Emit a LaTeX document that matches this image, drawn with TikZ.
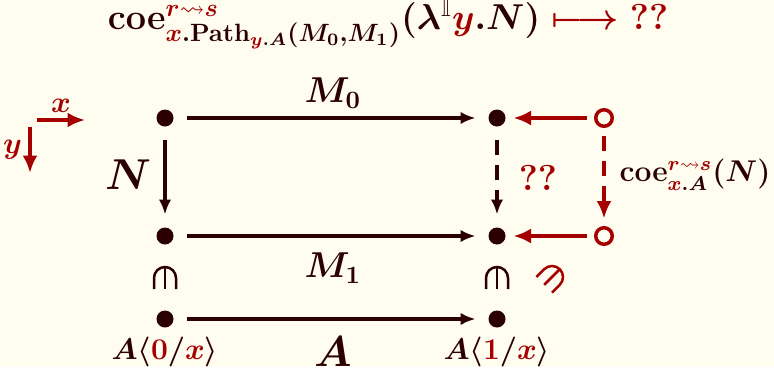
\documentclass[tikz,border=0pt]{standalone}
\usepackage{amsmath,amssymb}
\usepackage{xcolor}
\usetikzlibrary{arrows.meta}
\definecolor{mydark}{RGB}{43,0,0}
\definecolor{myred}{RGB}{165,0,0}
\definecolor{mycream}{RGB}{255,252,240}
\newcommand{\rd}[1]{{\color{myred}#1}}

\tikzset{
  every node/.style={text=mydark,font=\boldmath},
  pt/.style={circle,fill=mydark,inner sep=0pt,minimum size=6.8pt},
  hole/.style={circle,draw=myred,line width=1.4pt,inner sep=0pt,minimum size=6.6pt},
  fork/.pic={
    \draw[line width=1pt] (-11,11) -- (-11,0) arc (180:360:11) -- (11,11);
    \draw[line width=1pt] (0,-11) -- (0,11);
  },
  arr/.style={-{Latex[length=6pt,width=5pt]},line width=1.5pt,draw=mydark,shorten <=5pt,shorten >=5pt},
  redarr/.style={-{Latex[length=7pt,width=6pt]},line width=1.7pt,draw=myred,shorten <=3pt,shorten >=3pt},
}

\begin{document}
\begin{tikzpicture}[x=0.4pt,y=-0.4pt]
\fill[mycream] (0,0) rectangle (774,367);
\useasboundingbox (0,0) rectangle (774,367);

% the goal
\node[font=\Large\boldmath] (goal) at (388,24)
  {$\mathbf{coe}^{\rd{r\rightsquigarrow s}}_{\rd{x}.\mathbf{Path}_{\rd{y}.A}(M_0,M_1)}(\lambda^{\mathbb{I}}\rd{y}.N)\mathrel{\rd{\longmapsto}}\rd{??}$};

% directions
\coordinate (xs) at (37,120);
\coordinate (xe) at (85,120);
\coordinate (ys) at (30,127);
\coordinate (ye) at (30,173);
\draw[redarr,shorten <=0pt,shorten >=0pt] (xs) -- (xe) node[midway,above=-1pt,font=\large\boldmath] {$\rd{x}$};
\draw[redarr,shorten <=0pt,shorten >=0pt] (ys) -- (ye) node[midway,left=-1pt,font=\large\boldmath] {$\rd{y}$};

% points
\node[pt] (p00) at (165,118) {};
\node[pt] (p10) at (497,118) {};
\node[pt] (p01) at (165,236) {};
\node[pt] (p11) at (497,236) {};
\node[pt] (a0) at (165,319) {};
\node[pt] (a1) at (497,319) {};
\node[hole] (c0) at (604,118) {};
\node[hole] (c1) at (604,236) {};

\draw[arr] (p00) -- (p10);
\draw[arr] (p01) -- (p11);
\draw[arr] (a0) -- (a1);
\draw[arr] (p00) -- (p01);
\draw[arr,dash pattern=on 6pt off 4pt] (p10) -- (p11);
\draw[redarr] (c0) -- (p10);
\draw[redarr] (c1) -- (p11);
\draw[redarr,dash pattern=on 6pt off 4pt,line width=1.4pt] (c0) -- (c1);

% labels
\node[font=\Large\boldmath] (m0) at (333,93) {$M_0$};
\node[font=\Large\boldmath] (m1) at (333,268) {$M_1$};
\node[font=\LARGE\boldmath] (la) at (333,352) {$A$};
\node[font=\LARGE\boldmath] (ln) at (128,175) {$N$};
\node[font=\Large\boldmath] (qq) at (538,178) {$\rd{??}$};
\node[font=\large\boldmath] (co) at (695,175) {$\mathbf{coe}^{\rd{r\rightsquigarrow s}}_{\rd{x}.A}(N)$};
\pic[draw=mydark] at (165,278) {fork};
\pic[draw=mydark] at (497,278) {fork};
\pic[draw=myred,rotate=-45] at (552,277) {fork};
\node[font=\large\boldmath] (l0) at (165,352) {$A\langle\rd{0}/\rd{x}\rangle$};
\node[font=\large\boldmath] (l1) at (497,352) {$A\langle\rd{1}/\rd{x}\rangle$};
\end{tikzpicture}
\end{document}
